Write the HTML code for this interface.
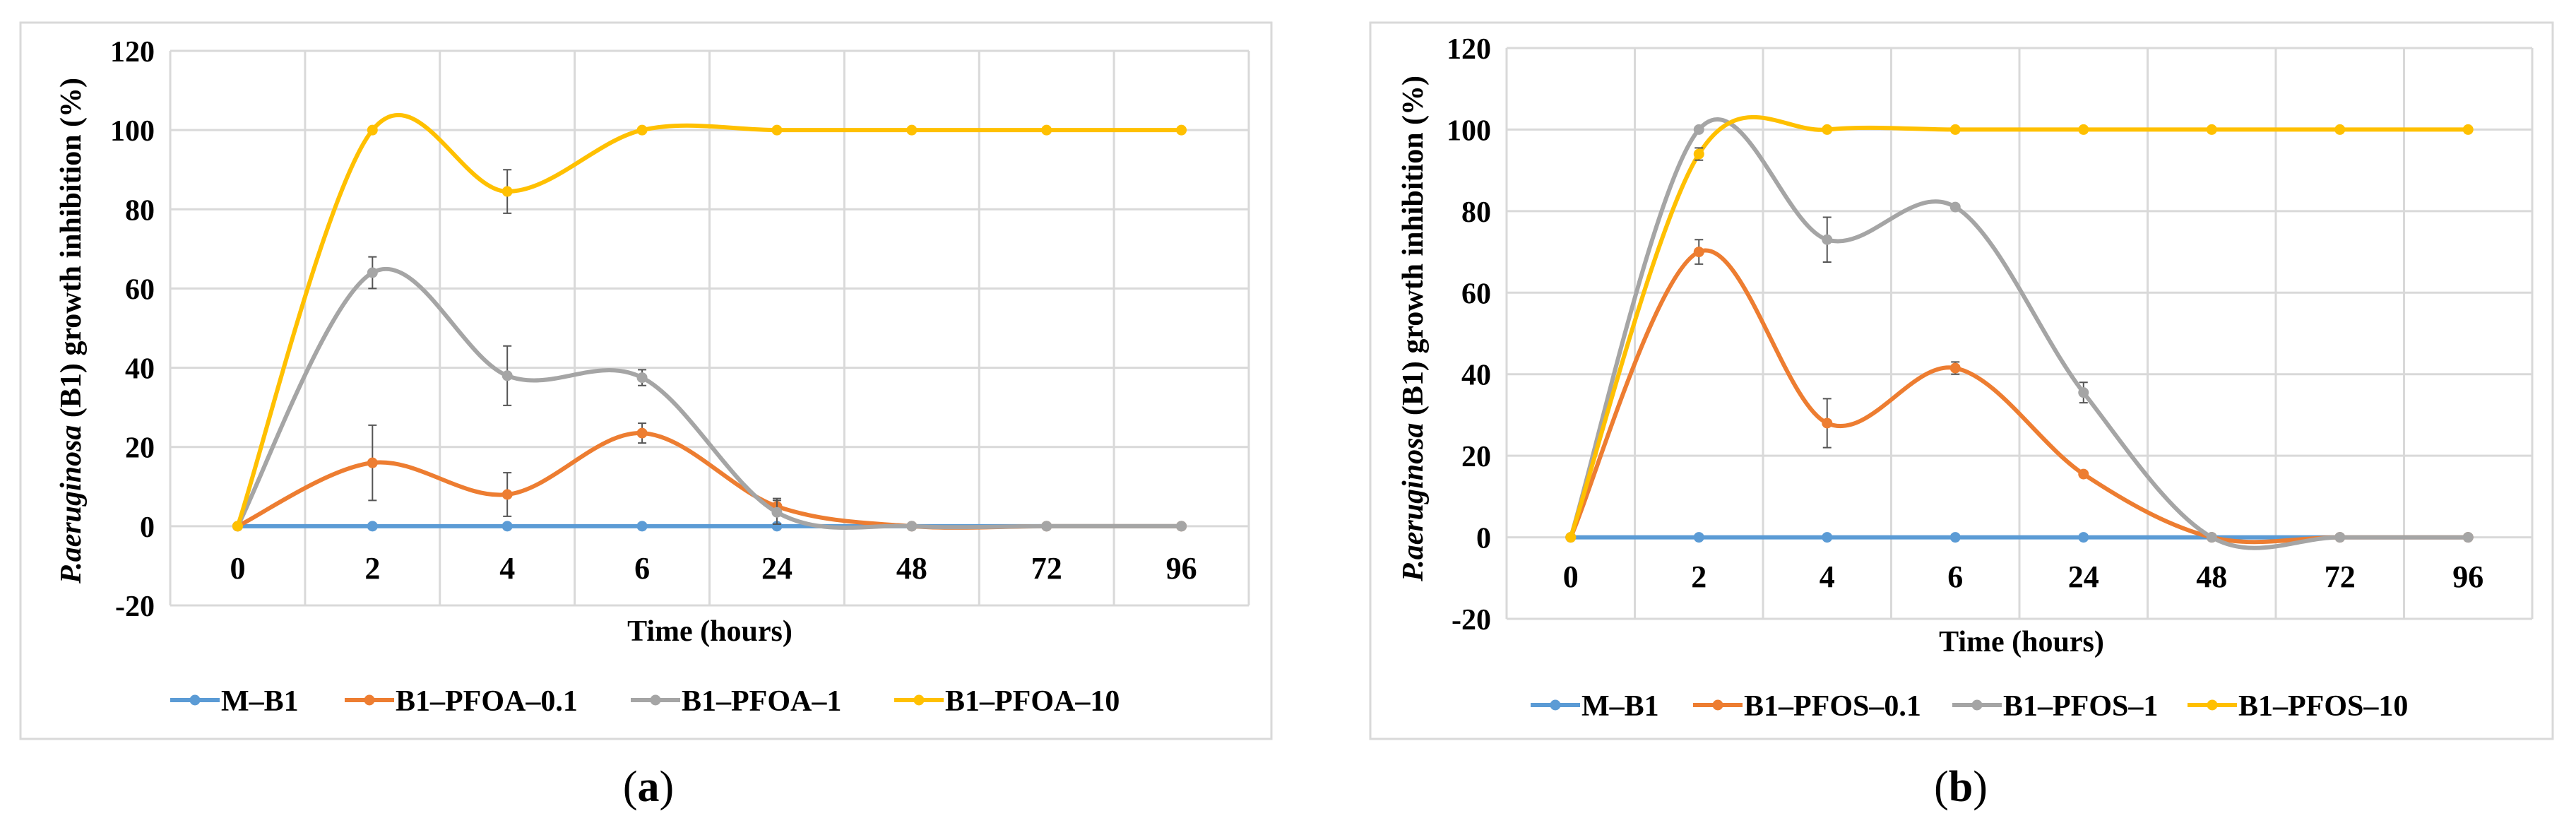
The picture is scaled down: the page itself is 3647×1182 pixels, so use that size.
<!DOCTYPE html>
<html><head><meta charset="utf-8"><style>
html,body{margin:0;padding:0;background:#fff;}
svg{display:block;}
text{font-family:"Liberation Serif",serif;font-weight:bold;fill:#000;}
</style></head><body>
<svg id="fig" width="3647" height="1182" viewBox="0 0 3647 1182" xmlns="http://www.w3.org/2000/svg"></svg>
<script>
const categories = ["0","2","4","6","24","48","72","96"];
const yTicks = [-20,0,20,40,60,80,100,120];
// Chart (a)
const aMB1 = [0,0,0,0,0,0,0,0];
const aP01 = [0,16,8,23.5,5,0,0,0];
const aP01Err = [0,9.5,5.5,2.5,2,0,0,0];
const aP1 = [0,64,38,37.5,3.5,0,0,0];
const aP1Err = [0,4,7.5,2,3,0,0,0];
const aP10 = [0,100,84.5,100,100,100,100,100];
const aP10Err = [0,0,5.5,0,0,0,0,0];
const aNames = ["M\u2013B1","B1\u2013PFOA\u20130.1","B1\u2013PFOA\u20131","B1\u2013PFOA\u201310"];
// Chart (b)
const bMB1 = [0,0,0,0,0,0,0,0];
const bP01 = [0,70,28,41.5,15.5,0,0,0];
const bP01Err = [0,3,6,1.5,0,0,0,0];
const bP1 = [0,100,73,81,35.5,0,0,0];
const bP1Err = [0,0,5.5,0,2.5,0,0,0];
const bP10 = [0,94,100,100,100,100,100,100];
const bP10Err = [0,1.5,0,0,0,0,0,0];
const bNames = ["M\u2013B1","B1\u2013PFOS\u20130.1","B1\u2013PFOS\u20131","B1\u2013PFOS\u201310"];

const colors = ["#5B9BD5","#ED7D31","#A5A5A5","#FFC000"];
const NS = "http://www.w3.org/2000/svg";
const svg = document.getElementById('fig');

function mk(tag, attrs, parent){
  const e = document.createElementNS(NS, tag);
  for (const k in attrs) e.setAttribute(k, attrs[k]);
  (parent||svg).appendChild(e);
  return e;
}

function drawChart(cfg, series, errs, names){
  const g = mk('g', {});
  
  
  const frame = mk('rect', {x:cfg.fx, y:32, width:cfg.fw, height:1014, fill:'#fff', stroke:'#d9d9d9', 'stroke-width':3}, g);
  
  
  const L = cfg.left, R = cfg.right, T = cfg.top, B = cfg.bottom;
  const n = categories.length;
  const cw = (R-L)/n;
  const xs = i => L + cw*(i+0.5);
  const ys = v => B - (v+20)/140*(B-T);
  yTicks.forEach(t=>{
    const ln = mk('line', {x1:L, x2:R, y1:ys(t), y2:ys(t), stroke:'#d9d9d9', 'stroke-width':3}, g);
    
    
    const tx = mk('text', {x:L-22, y:ys(t)+15, 'text-anchor':'end', 'font-size':42}, g);
    tx.textContent = t;
    
    
  });
  for (let i=0;i<=n;i++){
    const ln = mk('line', {x1:L+cw*i, x2:L+cw*i, y1:T, y2:B, stroke:'#d9d9d9', 'stroke-width':3}, g);
    
    
  }
  categories.forEach((c,i)=>{
    const tx = mk('text', {x:xs(i), y:cfg.tickY, 'text-anchor':'middle', 'font-size':44}, g);
    tx.textContent = c;
    
    
  });
  const xt = mk('text', {x:cfg.titleX, y:cfg.titleY, 'text-anchor':'middle', 'font-size':42}, g);
  xt.textContent = 'Time (hours)';
  
  
  const yt = mk('text', {x:0, y:0, 'text-anchor':'middle', 'font-size':42, transform:`translate(${cfg.ytX},${cfg.ytY}) rotate(-90)`}, g);
  yt.innerHTML = '<tspan font-style="italic">P.aeruginosa</tspan> (B1) growth inhibition (%)';
  
  
  series.forEach((vals, s)=>{
    const pts = vals.map((v,i)=>[xs(i), ys(v)]);
    let d = `M${pts[0][0]},${pts[0][1]}`;
    for (let i=0;i<pts.length-1;i++){
      const p0 = pts[Math.max(0,i-1)], p1 = pts[i], p2 = pts[i+1], p3 = pts[Math.min(pts.length-1,i+2)];
      const c1 = [p1[0]+(p2[0]-p0[0])/6, p1[1]+(p2[1]-p0[1])/6];
      const c2 = [p2[0]-(p3[0]-p1[0])/6, p2[1]-(p3[1]-p1[1])/6];
      d += ` C${c1[0]},${c1[1]} ${c2[0]},${c2[1]} ${p2[0]},${p2[1]}`;
    }
    const path = mk('path', {d, fill:'none', stroke:colors[s], 'stroke-width':6}, g);
    
    
    vals.forEach((v,i)=>{
      const e = errs[s][i];
      if (e>0){
        const eb = mk('path', {d:`M${xs(i)},${ys(v+e)} V${ys(v-e)} M${xs(i)-6},${ys(v+e)} h12 M${xs(i)-6},${ys(v-e)} h12`, stroke:'#555', 'stroke-width':2, fill:'none'}, g);
        
        
      }
      const c = mk('circle', {cx:xs(i), cy:ys(v), r:7.5, fill:colors[s]}, g);
      
      
    });
  });
  names.forEach((nm, s)=>{
    const lx = cfg.legX[s];
    const lg = mk('g', {}, g);
    
    
    mk('line', {x1:lx, x2:lx+70, y1:cfg.legY, y2:cfg.legY, stroke:colors[s], 'stroke-width':6}, lg);
    mk('circle', {cx:lx+35, cy:cfg.legY, r:7.5, fill:colors[s]}, lg);
    const t = mk('text', {x:lx+72, y:cfg.legY+15, 'font-size':42}, lg);
    t.textContent = nm;
  });
  const lab = mk('text', {x:cfg.labX, y:1134, 'text-anchor':'middle', 'font-size':62}, g);
  lab.innerHTML = '<tspan font-weight="normal">(</tspan>' + cfg.label + '<tspan font-weight="normal">)</tspan>';
  
  
}

drawChart({id:'chart-a', fx:29, fw:1771, left:241, right:1768, top:72, bottom:857, tickY:819, titleX:1005, titleY:907, ytX:114, ytY:468, legY:991, legX:[241,488,893,1266], labX:918, label:'a'},
  [aMB1,aP01,aP1,aP10], [aMB1,aP01Err,aP1Err,aP10Err], aNames);
drawChart({id:'chart-b', fx:1940, fw:1674, left:2133, right:3585, top:68, bottom:876, tickY:831, titleX:2862, titleY:922, ytX:2014, ytY:465, legY:998, legX:[2167,2397,2764,3097], labX:2776, label:'b'},
  [bMB1,bP01,bP1,bP10], [bMB1,bP01Err,bP1Err,bP10Err], bNames);
</script>
</body></html>
